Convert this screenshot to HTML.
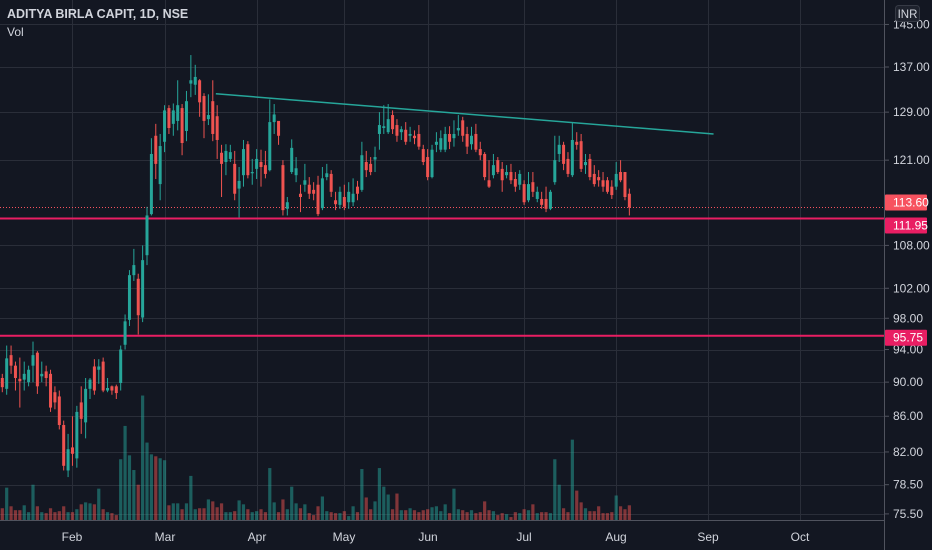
<!DOCTYPE html>
<html><head><meta charset="utf-8"><style>
html,body{margin:0;padding:0;background:#131722;}
svg{display:block;font-family:"Liberation Sans",sans-serif;}
</style></head><body>
<svg id="chart" width="932" height="550" viewBox="0 0 932 550" xmlns="http://www.w3.org/2000/svg">
<rect x="0" y="0" width="932" height="550" fill="#131722"/>
<g id="grid"></g>
<g id="vols"></g>
<g id="lines"></g>
<g id="candles"></g>
<g id="axes"></g>
<text x="7" y="18" fill="#d1d4dc" font-size="12.5" font-weight="bold">ADITYA BIRLA CAPIT, 1D, NSE</text>
<text x="7" y="36" fill="#d1d4dc" font-size="12">Vol</text>
</svg>
<script>
const opens=[90.5,89.2,93.3,92,90.4,90.3,90,92,93.6,90.7,91.3,91,88.8,88.3,85,80,82.5,81.3,87.6,85.3,89.2,91.9,91.5,92.5,89,89.5,89.5,89.9,94.6,97.8,103.8,103.3,98.1,
106.6,112.6,125.0,117.2,124.0,129.7,127.0,127.5,129.7,125.8,134.0,133.8,134.6,131.8,127.8,130.9,128.3,122.2,120.7,121.2,120.4,116.5,118.6,123.6,118.9,119.6,120.7,120.2,119.4,127.3,127.5,
120.2,113.4,119.1,118.6,115.7,117.1,117.1,116.3,117.1,113.5,118.3,
118.8,114.7,114.0,115.2,114.4,114.4,116.8,116.3,120.7,120.4,121.1,125.3,126.3,125.6,128.5,126.8,125.6,126.0,125.0,125.0,125.3,122.8,121.5,118.3,123.5,122.7,122.7,125.3,124.6,125.9,127.6,125.3,123.6,125.3,122.8,122.0,117.8,118.6,121.0,119.6,118.6,119.1,118.0,117.1,117.2,114.7,117.5,114.9,114.9,114.9,113.4,117.5,122.0,123.5,121.2,118.6,124.0,124.1,120.2,121.2,118.8,118.3,117.8,117.8,116.8,116.8,119.1,119.1,115.7];
const highs=[91,94.5,94.5,92.5,93,92.5,92,95,93.8,92.5,92,91.5,89.5,89,85.5,84,86,87.2,89.5,90.5,90.5,92.8,92.8,93,90.5,89.6,89.7,94.5,98.5,104.5,107.5,104,108,
113.7,124.6,127.0,125.3,130.2,130.2,130.5,134.6,130.4,132.7,139.2,137.4,134.8,132.3,132.1,134.6,130.2,123.5,123.6,123.5,122.5,119.9,124.3,124.1,121.2,122.8,122.7,122.5,131.2,130.4,127.3,
121.0,115.2,124.4,121.5,117.1,120.4,118.3,117.5,118.5,119.9,120.4,
119.4,116.0,116.8,117.1,117.5,118.1,117.7,124.0,122.5,121.5,123.2,129.0,130.2,130.4,129.3,127.8,126.6,127.3,126.5,125.9,126.8,123.5,122.8,123.5,125.6,125.9,126.5,126.6,127.6,128.5,128.2,126.5,126.5,127.0,124.0,122.3,121.0,122.0,121.5,120.7,120.2,120.4,119.1,119.4,117.8,119.1,119.1,116.8,116.0,116.8,116.3,125.0,125.0,124.0,122.3,127.3,125.6,125.3,122.0,122.0,120.2,119.4,119.1,118.3,117.8,120.7,121.0,119.1,116.5];
const lows=[88.8,88.5,91,89,87,89,89.5,90,88.6,90,89.5,86.5,86.8,84.5,80,79.3,80.5,80.3,84,83.5,88,88.5,89.8,88.8,88.8,88.5,88,89,94,97,103,95.9,97.5,
105.2,112.4,118.0,114.7,122.3,125.3,125.0,125.9,121.8,124.1,131.6,132.0,128.2,124.6,126.8,124.1,121.2,115.2,118.6,120.7,114.7,112.1,116.8,118.1,117.1,118.0,116.8,118.1,119.2,125.3,123.5,
112.4,112.4,118.8,117.5,112.9,116.0,114.9,114.7,112.3,113.2,117.8,
115.2,113.2,113.4,113.2,113.4,113.8,114.7,116.0,118.3,118.6,119.1,122.7,125.3,125.3,125.3,124.0,124.3,123.5,124.0,123.6,122.7,120.2,117.8,118.1,122.3,122.3,122.3,122.8,123.2,125.0,124.0,122.0,122.7,122.3,121.0,117.8,116.6,118.1,118.8,116.0,118.1,117.2,116.0,116.3,114.0,114.4,115.2,114.4,113.4,112.9,113.2,117.1,120.7,119.4,118.3,118.3,122.7,119.1,118.8,117.8,116.8,116.8,116.0,115.7,114.9,116.3,117.5,114.7,112.4];
const closes=[89.4,92.9,92,90.5,90.1,91,91.5,93.3,89.5,91,90.5,87,87.6,85,80.5,82.3,81.8,86.5,85.7,89.2,90.3,89,91.9,89,89.3,89,88.7,94,97.6,103.8,105.2,98.4,105.9,
112.4,122.0,120.4,123.3,129.3,126.3,129.3,130.2,123.8,130.9,134.6,135.2,130.7,127.5,128.5,125.3,124.3,120.4,122.5,122.3,115.7,117.7,122.8,118.6,119.1,121.2,119.9,118.8,127.3,128.6,125.0,
113.2,114.4,123.0,119.7,115.2,117.8,115.7,115.7,112.6,118.1,118.9,
116.0,114.1,116.0,113.7,116.0,115.7,115.7,121.8,119.4,119.1,121.5,126.8,126.6,127.8,126.1,125.0,126.1,124.0,125.3,124.6,123.2,120.7,118.3,122.7,124.0,124.6,125.3,124.0,125.3,126.3,125.0,123.2,125.0,122.7,121.8,118.3,116.8,120.2,119.1,117.8,119.1,117.8,116.8,118.8,114.4,117.2,116.0,116.0,114.0,113.4,116.0,121.0,123.5,120.4,118.8,124.3,123.5,119.6,120.7,118.3,117.2,117.8,116.8,116.0,115.5,118.8,117.8,115.2,113.6];
const volumes=[12,33,14,10,10,15,8,36,14,8,7,12,8,9,14,8,8,11,16,18,17,16,32,11,8,7,5,62,96,66,51,36,127,79,67,65,63,61,15,17,17,11,17,45,11,12,12,21,19,13,17,8,8,9,20,16,11,8,9,11,8,53,18,8,21,11,34,17,12,16,7,5,14,24,9,8,7,7,9,4,14,8,52,23,11,19,53,34,26,11,27,10,10,12,10,8,10,11,13,14,9,16,7,32,11,10,8,10,7,8,19,10,9,5,7,6,3,8,7,11,10,16,7,8,8,7,62,36,12,8,82,30,18,12,9,9,14,7,7,8,25,14,11,15];
const priceTicks=[145,137,129,121,108,102,98,94,90,86,82,78.5,75.5];
const monthLabels=["Feb","Mar","Apr","May","Jun","Jul","Aug","Sep","Oct"];
const monthStartIdx=[16,37,58,78,97,119,140,161,182];
const hLevels=[111.95,95.75];
const lastPrice=113.60;
const trendIdx=[48.7,162.2];
const trendPrice=[132.2,125.3];

const NS="http://www.w3.org/2000/svg";
const PLOT_R=884, PLOT_B=520;
function xOf(i){return 2.3+i*4.385;}
function yOf(p){return 3757-750*Math.log(p);}
function volY(v){return PLOT_B-v*0.98;}
function mk(tag,attrs,parent){const e=document.createElementNS(NS,tag);for(const k in attrs)e.setAttribute(k,attrs[k]);parent.appendChild(e);return e;}
const grid=document.getElementById('grid'),vols=document.getElementById('vols'),lines=document.getElementById('lines'),cg=document.getElementById('candles'),axes=document.getElementById('axes');
const GC="#2a2e39";
priceTicks.forEach(p=>{
  const y=Math.round(yOf(p))+0.5;
  const l=mk('line',{x1:0,x2:PLOT_R,y1:y,y2:y,stroke:GC,'stroke-width':1},grid);
  
  
});
monthStartIdx.forEach((i,k)=>{
  const x=Math.round(xOf(i))+0.5;
  const l=mk('line',{x1:x,x2:x,y1:0,y2:PLOT_B,stroke:GC,'stroke-width':1},grid);
  
  
});
volumes.forEach((v,i)=>{
  const up=closes[i]>=opens[i];
  const x=xOf(i);
  const r=mk('rect',{x:x-1.6,y:volY(v),width:3.2,height:PLOT_B-volY(v),fill:up?'rgba(38,166,154,0.5)':'rgba(239,83,80,0.5)'},vols);
  
  
});
hLevels.forEach(p=>{
  const y=yOf(p);
  const l=mk('line',{x1:0,x2:PLOT_R,y1:y,y2:y,stroke:'#e91e63','stroke-width':2},lines);
  
  
});
{
  const y=Math.round(yOf(lastPrice))+0.5;
  const l=mk('line',{x1:0,x2:PLOT_R,y1:y,y2:y,stroke:'#f7525f','stroke-width':1,'stroke-dasharray':'1 2'},lines);
  
  
  const t=mk('line',{x1:xOf(trendIdx[0]),y1:yOf(trendPrice[0]),x2:xOf(trendIdx[1]),y2:yOf(trendPrice[1]),stroke:'#26a69a','stroke-width':1.5},lines);
  
  
}
opens.forEach((o,i)=>{
  const c=closes[i],h=highs[i],l=lows[i];
  const up=c>=o,col=up?'#26a69a':'#ef5350';
  const x=xOf(i);
  const g=mk('g',{},cg);
  
  
  mk('line',{x1:x,x2:x,y1:yOf(h),y2:yOf(l),stroke:col,'stroke-width':1},g);
  const yt=yOf(Math.max(o,c)),yb=yOf(Math.min(o,c));
  mk('rect',{x:x-1.5,y:yt,width:3,height:Math.max(1,yb-yt),fill:col},g);
});
mk('rect',{x:PLOT_R,y:0,width:932-PLOT_R,height:550,fill:'#131722'},axes);
mk('rect',{x:0,y:PLOT_B,width:PLOT_R,height:30,fill:'#131722'},axes);
monthStartIdx.forEach((i,k)=>{
  const t=mk('text',{x:Math.round(xOf(i)),y:541,fill:'#d1d4dc','font-size':12,'text-anchor':'middle'},axes);
  t.textContent=monthLabels[k];
  
  
});
mk('line',{x1:PLOT_R+0.5,x2:PLOT_R+0.5,y1:0,y2:550,stroke:'#50535e','stroke-width':1},axes);
mk('line',{x1:0,x2:PLOT_R,y1:PLOT_B+0.5,y2:PLOT_B+0.5,stroke:'#50535e','stroke-width':1},axes);
priceTicks.forEach(p=>{
  const y=yOf(p);
  mk('line',{x1:PLOT_R,x2:PLOT_R+5,y1:y,y2:y,stroke:'#50535e'},axes);
  const t=mk('text',{x:893,y:y+4,fill:'#d1d4dc','font-size':12},axes);
  t.textContent=p.toFixed(2);
  
  
});
function badge(val,cy,fill,name){
  const g=mk('g',{},axes);
  
  
  mk('rect',{x:PLOT_R+1,y:cy-8,width:42,height:16,fill:fill,rx:1},g);
  const t=mk('text',{x:893,y:cy+4,fill:'#ffffff','font-size':12},g);
  t.textContent=val.toFixed(2);
}
badge(lastPrice,yOf(lastPrice)-5,'#f7525f','last-price-badge');
badge(hLevels[0],yOf(hLevels[0])+7,'#e91e63','level-badge-upper');
badge(hLevels[1],yOf(hLevels[1])+2,'#e91e63','level-badge-lower');
{
  const g=mk('g',{},axes);
  
  
  mk('rect',{x:895.5,y:5.5,width:24,height:16,fill:'#1e222d',stroke:'#363a45',rx:3},g);
  const t=mk('text',{x:907.5,y:18,fill:'#d1d4dc','font-size':11.5,'text-anchor':'middle'},g);
  t.textContent='INR';
}
</script>
</body></html>
